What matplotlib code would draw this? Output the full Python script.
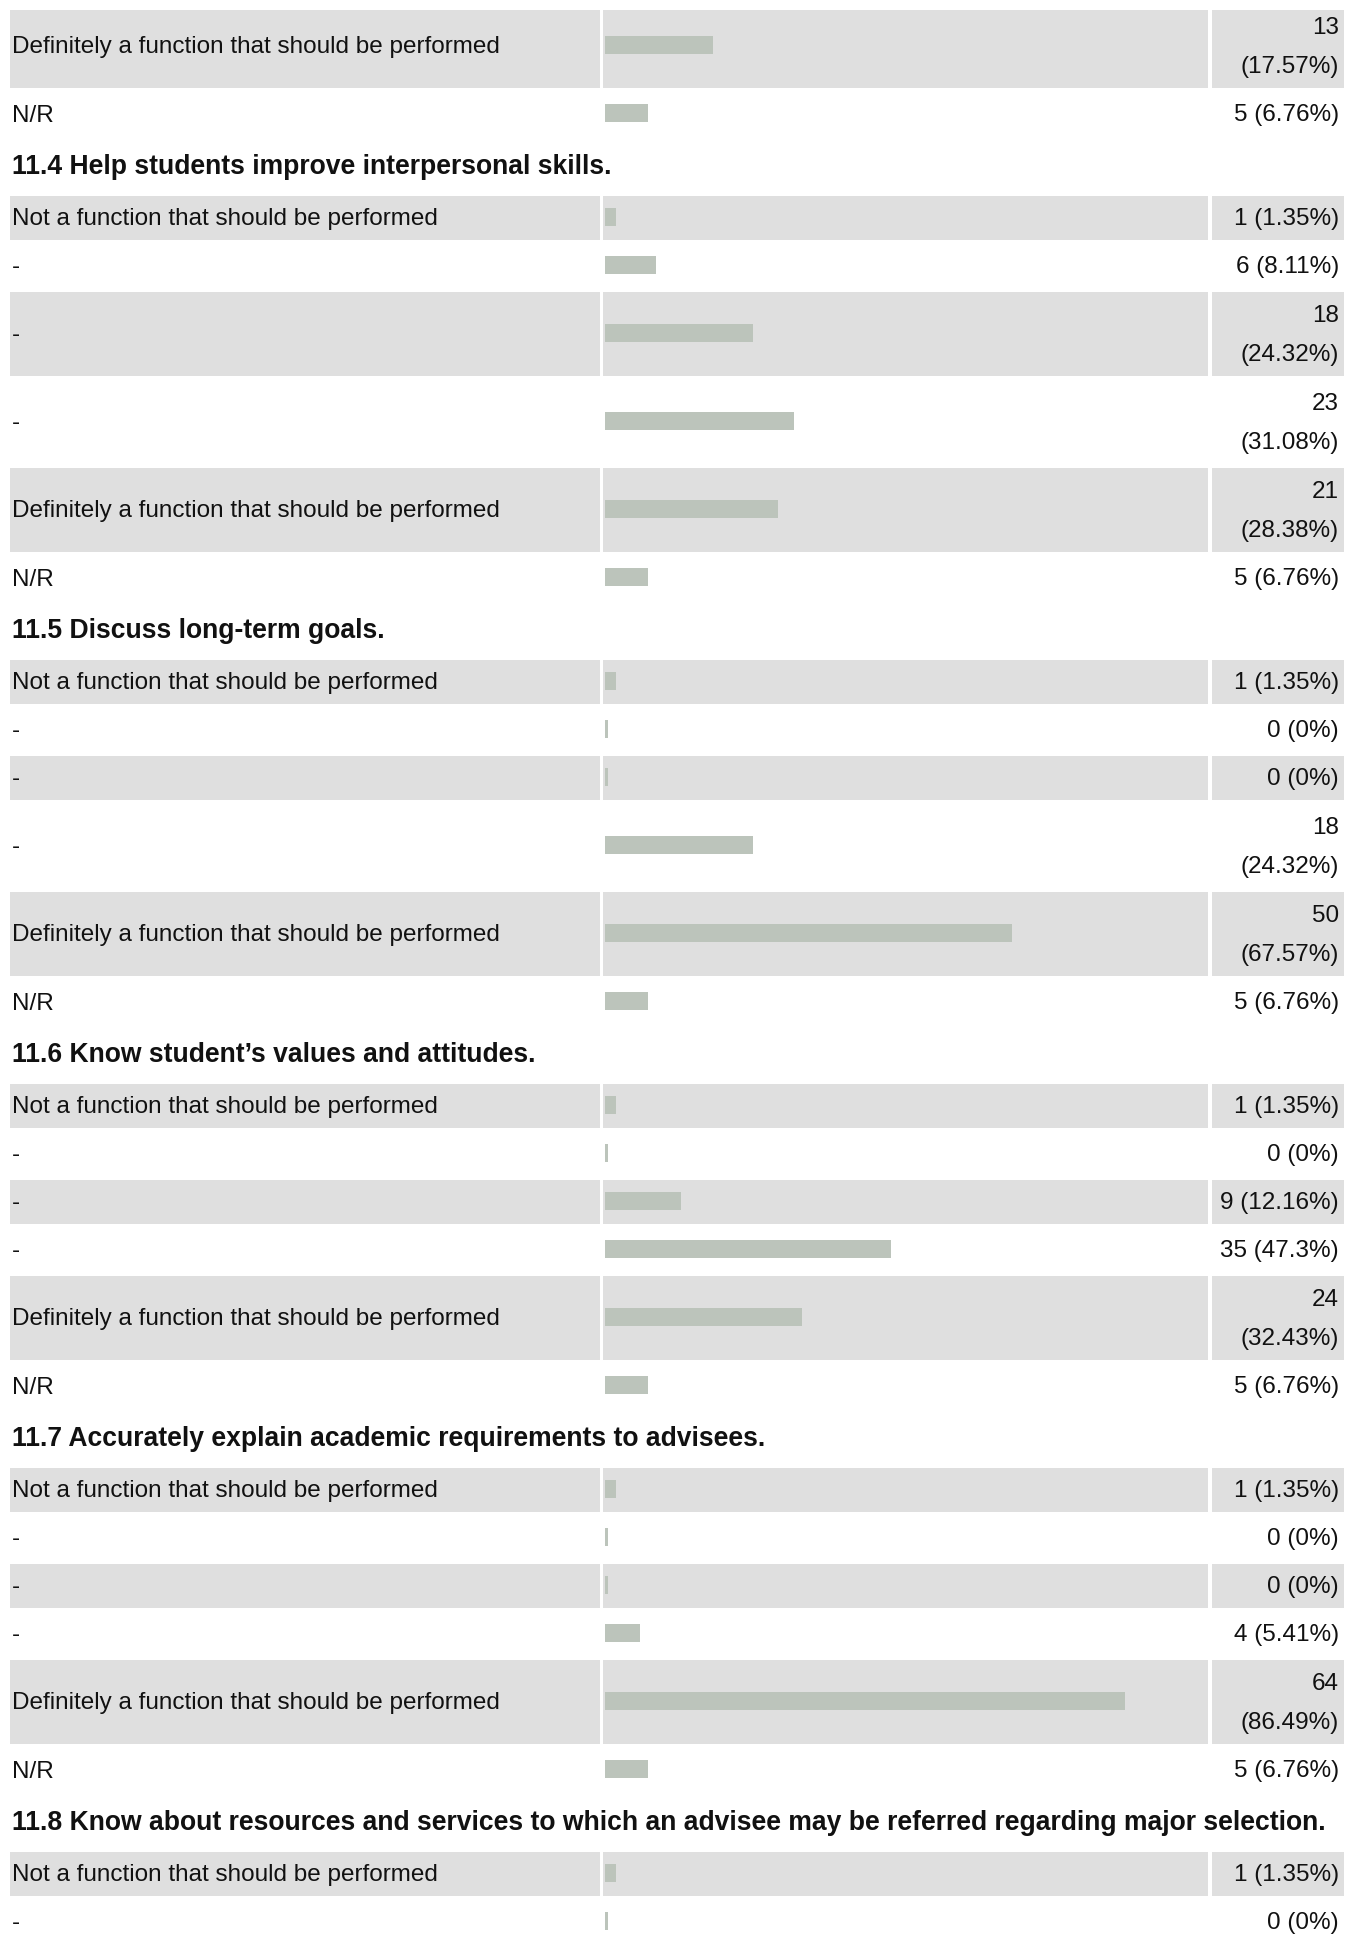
import matplotlib.pyplot as plt
from matplotlib.patches import Rectangle

plt.rcParams['font.family'] = ['Liberation Sans', 'DejaVu Sans']

# answer options, same for every question
row_labels = ['Not a function that should be performed', '-', '-', '-',
              'Definitely a function that should be performed', 'N/R']

# question titles (first block is the tail of 11.3, no title visible)
titles = [None,
          '11.4 Help students improve interpersonal skills.',
          '11.5 Discuss long-term goals.',
          '11.6 Know student\u2019s values and attitudes.',
          '11.7 Accurately explain academic requirements to advisees.',
          '11.8 Know about resources and services to which an advisee may be referred regarding major selection.']

# first option index shown for each block (partial blocks at top/bottom)
first_row = [4, 0, 0, 0, 0, 0]

counts_11_3 = [13, 5]
pcts_11_3 = [17.57, 6.76]
counts_11_4 = [1, 6, 18, 23, 21, 5]
pcts_11_4 = [1.35, 8.11, 24.32, 31.08, 28.38, 6.76]
counts_11_5 = [1, 0, 0, 18, 50, 5]
pcts_11_5 = [1.35, 0, 0, 24.32, 67.57, 6.76]
counts_11_6 = [1, 0, 9, 35, 24, 5]
pcts_11_6 = [1.35, 0, 12.16, 47.3, 32.43, 6.76]
counts_11_7 = [1, 0, 0, 4, 64, 5]
pcts_11_7 = [1.35, 0, 0, 5.41, 86.49, 6.76]
counts_11_8 = [1, 0]
pcts_11_8 = [1.35, 0]

all_counts = [counts_11_3, counts_11_4, counts_11_5, counts_11_6, counts_11_7, counts_11_8]
all_pcts = [pcts_11_3, pcts_11_4, pcts_11_5, pcts_11_6, pcts_11_7, pcts_11_8]

W, H = 1356, 1947
fig = plt.figure(figsize=(W / 100, H / 100), dpi=100)
ax = fig.add_axes([0, 0, 1, 1])
ax.set_xlim(0, W)
ax.set_ylim(H, 0)
ax.axis('off')

grey = '#dfdfdf'
bar_col = '#bcc4bb'
txt_col = '#111111'
fs = 17.5
fs_title = 19.1

# column layout (pixels)
c1 = (10, 600)
c2 = (603, 1208)
c3 = (1212, 1344)
bar_x0 = 605
px_per_pct = 5.98
min_w = 3

single, double, gap, title_h = 44, 84, 4, 56
dy = 1.5  # text baseline nudge

y = 4
bar_y, bar_w = [], []
for b in range(len(titles)):
    if titles[b] is not None:
        ax.text(12, y + title_h / 2 - 1, titles[b], fontsize=fs_title, fontweight='bold',
                color=txt_col, va='center', ha='left')
        y += title_h
    for k, (c, p) in enumerate(zip(all_counts[b], all_pcts[b])):
        idx = first_row[b] + k
        lab = f'{c} ({p:g}%)'
        h = double if len(lab) > 10 else single
        if idx % 2 == 0:
            top = max(y, 10)
            for x0, x1 in (c1, c2, c3):
                ax.add_patch(Rectangle((x0, top), x1 - x0, y + h - top,
                                       color=grey, lw=0, zorder=0))
        ax.text(12, y + h / 2 + dy, row_labels[idx], fontsize=fs, color=txt_col,
                va='center', ha='left')
        if h == double:
            ax.text(1339, y + 22 + dy, str(c), fontsize=fs, color=txt_col,
                    va='center', ha='right')
            ax.text(1339, y + 62 + dy, f'({p:g}%)', fontsize=fs, color=txt_col,
                    va='center', ha='right')
        else:
            ax.text(1339, y + h / 2 + dy, lab, fontsize=fs, color=txt_col,
                    va='center', ha='right')
        bar_y.append(y + h / 2 - 1)
        bar_w.append(min_w + px_per_pct * p)
        y += h + gap

ax.barh(bar_y, bar_w, left=bar_x0, height=18, color=bar_col, zorder=2)

fig.savefig('out.png', dpi=100)
